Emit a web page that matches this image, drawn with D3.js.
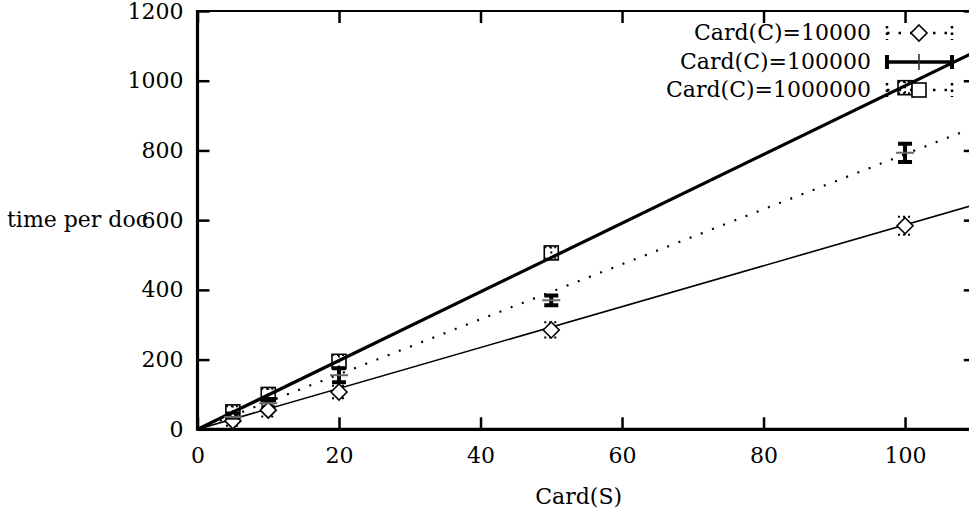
<!DOCTYPE html>
<html>
<head>
<meta charset="utf-8">
<script src="https://cdn.jsdelivr.net/npm/d3@7"></script>
<style>
  body { margin: 0; background: #fff; }
  svg { display: block; }
</style>
</head>
<body>
<div id="chart"></div>
<script>
// data
var cardS = [5, 10, 20, 50, 100];
var time10k = [24, 55, 107, 285, 584];
var err10k = [14, 18, 18, 22, 26];
var time100k = [35, 75, 155, 370, 793];
var err100k = [10, 12, 20, 14, 26];
var time1m = [50, 100, 195, 506, 980];
var err1m = [16, 16, 18, 16, 16];

// fitted lines (end points)
var fitX = [0, 110];
var fit10k = [0, 645];
var fit100k = [0, 868];
var fit1m = [0, 1084];

var legendLabels = ["Card(C)=10000", "Card(C)=100000", "Card(C)=1000000"];
var xTicks = [0, 20, 40, 60, 80, 100];
var yTicks = [0, 200, 400, 600, 800, 1000, 1200];

var FONT = "DejaVu Serif";
var FSIZE = "22px";

var width = 969, height = 510;
var margin = {top: 11, left: 197.5, bottom: 429.3, right: 975.8};

var svg = d3.select("#chart").append("svg")
    .attr("width", width)
    .attr("height", height)
    .attr("font-family", FONT)
    .attr("font-size", FSIZE);

var x = d3.scaleLinear().domain([0, 110]).range([margin.left, margin.right]);
var y = d3.scaleLinear().domain([0, 1200]).range([margin.bottom, margin.top]);

svg.append("defs").append("clipPath").attr("id", "plot-clip")
    .append("rect")
    .attr("x", margin.left).attr("y", margin.top)
    .attr("width", margin.right - margin.left)
    .attr("height", margin.bottom - margin.top);

// axes
var xAxis = d3.axisBottom(x).tickValues(xTicks).tickFormat(d3.format("d"))
    .tickSizeInner(-12).tickSizeOuter(0).tickPadding(18);
var yAxis = d3.axisLeft(y).tickValues(yTicks).tickFormat(d3.format("d"))
    .tickSizeInner(-12).tickSizeOuter(0).tickPadding(14);
var xTop = d3.axisTop(x).tickValues(xTicks).tickSizeInner(-12).tickSizeOuter(0).tickFormat("");
var yRight = d3.axisRight(y).tickValues(yTicks).tickSizeInner(-12).tickSizeOuter(0).tickFormat("");

function styleAxis(g) {
    g.attr("font-family", FONT).attr("font-size", FSIZE);
    g.select(".domain").remove();
    g.selectAll(".tick line").attr("stroke", "#000").attr("stroke-width", 2.5);
    g.selectAll(".tick text").attr("fill", "#000");
}

svg.append("g").attr("class", "x-axis axis")
    .attr("transform", "translate(0," + margin.bottom + ")")
    .call(xAxis).call(styleAxis);
svg.append("g").attr("class", "y-axis axis")
    .attr("transform", "translate(" + margin.left + ",0)")
    .call(yAxis).call(styleAxis);
svg.append("g").attr("transform", "translate(0," + margin.top + ")")
    .call(xTop).call(styleAxis);
svg.append("g").attr("transform", "translate(" + margin.right + ",0)")
    .call(yRight).call(styleAxis);

// border
svg.append("line").attr("x1", margin.left).attr("x2", margin.right)
    .attr("y1", margin.top).attr("y2", margin.top)
    .attr("stroke", "#000").attr("stroke-width", 2);
svg.append("line").attr("x1", margin.left).attr("x2", margin.right)
    .attr("y1", margin.bottom).attr("y2", margin.bottom)
    .attr("stroke", "#000").attr("stroke-width", 3.2);
svg.append("line").attr("x1", margin.left).attr("x2", margin.left)
    .attr("y1", margin.top - 1).attr("y2", margin.bottom + 1.5)
    .attr("stroke", "#000").attr("stroke-width", 3.2);
svg.append("line").attr("x1", margin.right).attr("x2", margin.right)
    .attr("y1", margin.top).attr("y2", margin.bottom)
    .attr("stroke", "#000").attr("stroke-width", 2);

// axis titles
svg.append("text").attr("class", "axis-label")
    .attr("x", 7).attr("y", y(600)).attr("dy", "0.32em")
    .text("time per doc");
svg.append("text").attr("class", "axis-label")
    .attr("x", (margin.left + x(110)) / 2 - 8).attr("y", 497).attr("dy", "0.32em")
    .attr("text-anchor", "middle")
    .text("Card(S)");

var plot = svg.append("g").attr("clip-path", "url(#plot-clip)");

// fit lines
var line = d3.line()
    .x(function(d) { return x(d[0]); })
    .y(function(d) { return y(d[1]); });

function fitPoints(vals) {
    return fitX.map(function(v, i) { return [v, vals[i]]; });
}

plot.append("path").attr("d", line(fitPoints(fit10k)))
    .attr("fill", "none").attr("stroke", "#000").attr("stroke-width", 1.6);
plot.append("path").attr("d", line(fitPoints(fit100k)))
    .attr("fill", "none").attr("stroke", "#000").attr("stroke-width", 2.2)
    .attr("stroke-dasharray", "2,10");
plot.append("path").attr("d", line(fitPoints(fit1m)))
    .attr("fill", "none").attr("stroke", "#000").attr("stroke-width", 3.2);

// error bars
var capHalf = 7;
function errorBars(vals, errs, dotted, thick) {
    var g = plot.append("g");
    var data = cardS.map(function(c, i) { return {c: c, v: vals[i], e: errs[i]}; });
    var sw = thick ? 4 : 2;
    var dash = dotted ? "2,3" : null;
    g.selectAll(".ebar").data(data).enter().append("line")
        .attr("x1", function(d) { return x(d.c); })
        .attr("x2", function(d) { return x(d.c); })
        .attr("y1", function(d) { return y(d.v - d.e); })
        .attr("y2", function(d) { return y(d.v + d.e); })
        .attr("stroke", "#000").attr("stroke-width", sw)
        .attr("stroke-dasharray", dash);
    [-1, 1].forEach(function(s) {
        g.selectAll(".cap" + s).data(data).enter().append("line")
            .attr("x1", function(d) { return x(d.c) - capHalf; })
            .attr("x2", function(d) { return x(d.c) + capHalf; })
            .attr("y1", function(d) { return y(d.v + s * d.e); })
            .attr("y2", function(d) { return y(d.v + s * d.e); })
            .attr("stroke", "#000").attr("stroke-width", sw)
            .attr("stroke-dasharray", dash);
    });
    return g;
}

errorBars(time10k, err10k, true, false);
errorBars(time1m, err1m, true, false);
errorBars(time100k, err100k, false, true);

// markers
var diamond = function(cx, cy) {
    return "M" + cx + "," + (cy - 8) + "L" + (cx + 8) + "," + cy +
        "L" + cx + "," + (cy + 8) + "L" + (cx - 8) + "," + cy + "Z";
};

plot.selectAll(".pt-10k").data(cardS).enter().append("path")
    .attr("d", function(c, i) { return diamond(x(c), y(time10k[i])); })
    .attr("fill", "#fff").attr("stroke", "#000").attr("stroke-width", 1.6);

plot.selectAll(".pt-1m").data(cardS).enter().append("rect")
    .attr("x", function(c) { return x(c) - 7; })
    .attr("y", function(c, i) { return y(time1m[i]) - 7; })
    .attr("width", 14).attr("height", 14)
    .attr("fill", "none").attr("stroke", "#000").attr("stroke-width", 1.6);

plot.selectAll(".pt-100k").data(cardS).enter().append("line")
    .attr("x1", function(c) { return x(c) - 9; })
    .attr("x2", function(c) { return x(c) + 9; })
    .attr("y1", function(c, i) { return y(time100k[i]); })
    .attr("y2", function(c, i) { return y(time100k[i]); })
    .attr("stroke", "#666").attr("stroke-width", 2);

// legend
var legX1 = 887, legX2 = 952, legMid = 919;
var legY = [33, 62, 90];
var legend = svg.append("g").attr("class", "legend");

legendLabels.forEach(function(lab, i) {
    var ly = legY[i];
    legend.append("text")
        .attr("x", 871).attr("y", ly).attr("dy", "0.32em")
        .attr("text-anchor", "end")
        .text(lab);
    var dotted = i !== 1;
    var sw = dotted ? 2.5 : 4;
    var dash = dotted ? "2.5,4" : null;
    legend.append("line").attr("x1", legX1).attr("x2", legX2)
        .attr("y1", ly).attr("y2", ly)
        .attr("stroke", "#000").attr("stroke-width", dotted ? 2.5 : 3.5)
        .attr("stroke-dasharray", dotted ? "2.5,9" : null);
    [legX1, legX2].forEach(function(ex) {
        legend.append("line").attr("x1", ex).attr("x2", ex)
            .attr("y1", ly - 7).attr("y2", ly + 7)
            .attr("stroke", "#000").attr("stroke-width", sw)
            .attr("stroke-dasharray", dash);
    });
    if (i === 0) {
        legend.append("path").attr("d", diamond(legMid, ly))
            .attr("fill", "#fff").attr("stroke", "#000").attr("stroke-width", 1.6);
    } else if (i === 1) {
        legend.append("line").attr("x1", legMid).attr("x2", legMid)
            .attr("y1", ly - 8).attr("y2", ly + 8)
            .attr("stroke", "#333").attr("stroke-width", 1.6);
    } else {
        legend.append("rect").attr("x", legMid - 7).attr("y", ly - 7)
            .attr("width", 14).attr("height", 14)
            .attr("fill", "#fff").attr("stroke", "#000").attr("stroke-width", 1.6);
    }
});
</script>
</body>
</html>
